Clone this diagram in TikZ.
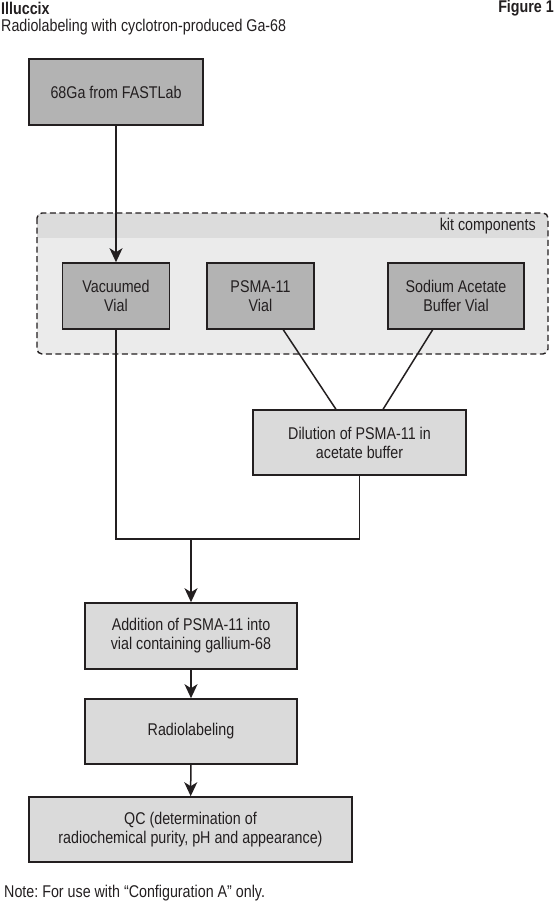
\documentclass[tikz,border=0pt]{standalone}
\usepackage{fontspec}
\setmainfont{Liberation Sans}[FakeStretch=0.84]
\usepackage{tikz}
\usetikzlibrary{arrows.meta,calc}
\definecolor{cLine}{HTML}{231F20}
\definecolor{cDark}{HTML}{B3B3B3}
\definecolor{cLight}{HTML}{DADADA}
\definecolor{cKit}{HTML}{EBEBEB}
\definecolor{cKitHead}{HTML}{DCDCDC}
\tikzset{
  vialbox/.style={draw=cLine, line width=1.6pt, fill=cDark, minimum width=107pt, minimum height=66pt, align=center, inner sep=0pt},
  stepbox/.style={draw=cLine, line width=1.6pt, fill=cLight, minimum height=65pt, align=center, inner sep=0pt},
  link/.style={draw=cLine, line width=1.5pt},
  flow/.style={link, -{Stealth[length=14pt, width=13pt, inset=4pt]}},
  kitframe/.style={draw=cLine, line width=1.4pt, dash pattern=on 6pt off 3.5pt, rounded corners=5pt},
  txt/.style={inner sep=0pt},
}
\frenchspacing

\begin{document}
\begin{tikzpicture}[x=1pt, y=-1pt, every node/.append style={font=\fontsize{17}{19}\selectfont, text=cLine}]
\useasboundingbox (0,0) rectangle (556,907);
% headings
\node[txt, anchor=west] (brand) at (1,8) {\bfseries Illuccix};
\node[txt, anchor=east] (fig) at (554,8) {\bfseries Figure 1};
\node[txt, anchor=west] (subtitle) at (1,27) {Radiolabeling with cyclotron-produced Ga-68};
% kit components group
\fill[cKit, rounded corners=5pt] (37,213) rectangle (548,354);
\begin{scope}
  \clip[rounded corners=5pt] (37,213) rectangle (548,354);
  \fill[cKitHead] (37,213) rectangle (548,238);
\end{scope}
\draw[kitframe] (37,213) rectangle (548,354);
\node[txt, anchor=east] (kit) at (536,226) {kit components};
% boxes
\node[vialbox, minimum width=174pt] (feed) at (116,92) {68Ga from FASTLab};
\node[vialbox] (vac) at (116,296) {Vacuumed\\Vial};
\node[vialbox] (psma) at (260.5,296) {PSMA-11\\Vial};
\node[vialbox, minimum width=136pt] (naac) at (456,296) {Sodium Acetate\\Buffer Vial};
\node[stepbox, minimum width=213pt] (dil) at (359.5,442.5) {Dilution of PSMA-11 in\\acetate buffer};
\node[stepbox, minimum width=212pt, minimum height=66pt] (add) at (191,636) {Addition of PSMA-11 into\\vial containing gallium-68};
\node[stepbox, minimum width=212pt] (rl) at (191,731.5) {Radiolabeling};
\node[stepbox, minimum width=323pt] (qc) at (190.5,829.5) {QC (determination of\\radiochemical purity, pH and appearance)};
\node[txt, anchor=west] (note) at (4,893) {Note: For use with “Configuration A” only.};
% connectors
\coordinate (join) at (191,539);
\draw[flow] (feed) -- (vac);
\draw[link] ($(psma.south west)!0.71!(psma.south east)$) -- ($(dil.north west)!0.39!(dil.north east)$);
\draw[link] ($(naac.south west)!0.33!(naac.south east)$) -- ($(dil.north west)!0.61!(dil.north east)$);
\draw[link] (vac.south) |- (join) -| (dil.south);
\draw[flow] (join) -- (add);
\draw[flow] (add) -- (rl);
\draw[flow] (rl) -- (qc);
\end{tikzpicture}
\end{document}
